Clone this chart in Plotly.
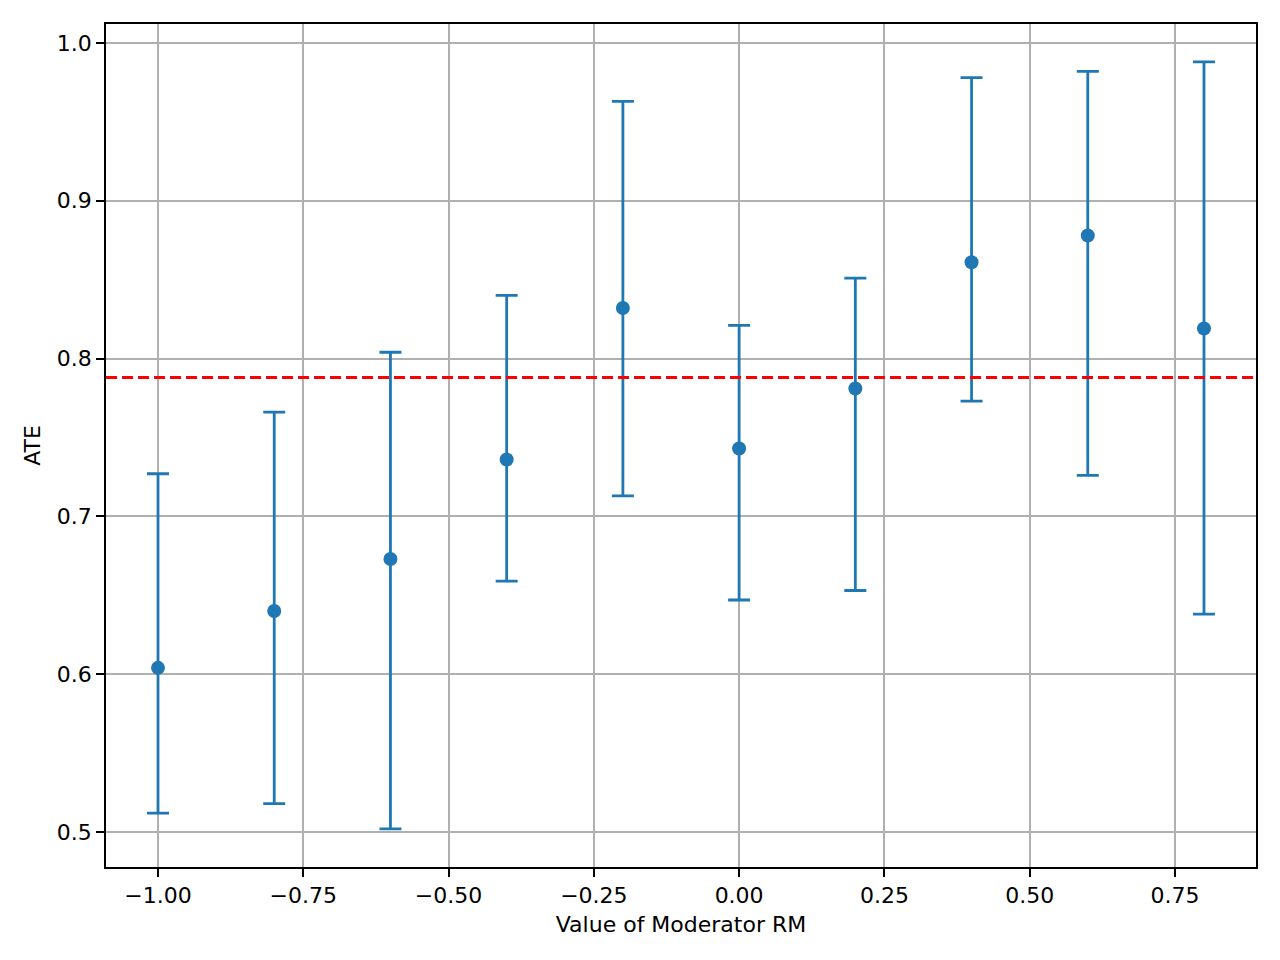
import plotly.graph_objects as go

# moderator values and estimated ATE with CI bounds
rm_values = [-1.0, -0.8, -0.6, -0.4, -0.2, 0.0, 0.2, 0.4, 0.6, 0.8]
ate = [0.604, 0.640, 0.673, 0.736, 0.832, 0.743, 0.781, 0.861, 0.878, 0.819]
ci_upper = [0.727, 0.766, 0.804, 0.840, 0.963, 0.821, 0.851, 0.978, 0.982, 0.988]
ci_lower = [0.512, 0.518, 0.502, 0.659, 0.713, 0.647, 0.653, 0.773, 0.726, 0.638]
overall_ate = 0.788

x_ticks = [-1.0, -0.75, -0.5, -0.25, 0.0, 0.25, 0.5, 0.75]
x_ticktext = ["\u22121.00", "\u22120.75", "\u22120.50", "\u22120.25", "0.00", "0.25", "0.50", "0.75"]
y_ticks = [0.5, 0.6, 0.7, 0.8, 0.9, 1.0]

err_plus = [u - a for u, a in zip(ci_upper, ate)]
err_minus = [a - l for a, l in zip(ate, ci_lower)]

blue = "#1f77b4"

fig = go.Figure()
fig.add_trace(go.Scatter(
    x=rm_values, y=ate, mode="markers",
    marker=dict(color=blue, size=14),
    error_y=dict(type="data", symmetric=False, array=err_plus, arrayminus=err_minus,
                 color=blue, thickness=2.8, width=11),
    showlegend=False,
))

# overall ATE reference line
fig.add_hline(y=overall_ate, line=dict(color="red", width=2.8, dash="11px,5px"))

axis_common = dict(
    showline=True, linecolor="black", linewidth=1.8, mirror=True,
    ticks="outside", ticklen=8, tickwidth=1.8, tickcolor="black",
    showgrid=True, gridcolor="#b0b0b0", gridwidth=1.6, zeroline=False,
    tickfont=dict(size=22, color="black"),
)

# page body has an 8px margin, so shift the plot area up/left by 8px
fig.update_layout(
    width=1280, height=960,
    margin=dict(l=98, r=32, t=16, b=101),
    plot_bgcolor="white", paper_bgcolor="white",
    font=dict(family="DejaVu Sans", size=22, color="black"),
    xaxis=dict(range=[-1.0895, 0.8895], tickvals=x_ticks, ticktext=x_ticktext,
               title=dict(text="Value of Moderator RM", standoff=9, font=dict(size=22)),
               **axis_common),
    yaxis=dict(range=[0.4778, 1.012], tickvals=y_ticks, tickformat=".1f",
               title=dict(text="ATE", standoff=10, font=dict(size=22)),
               **axis_common),
)

fig.write_html("out.html")
